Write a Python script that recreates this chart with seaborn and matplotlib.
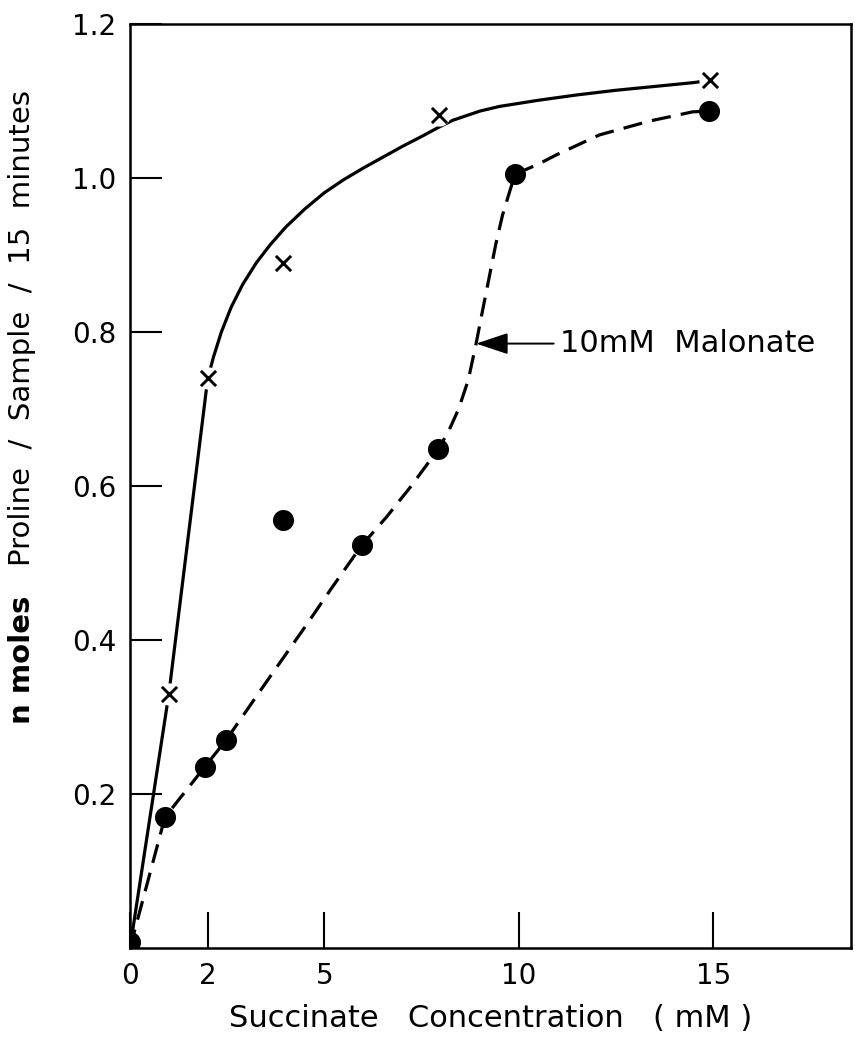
import matplotlib
matplotlib.use("Agg")
import matplotlib.pyplot as plt
import seaborn as sns
import pandas as pd

# ---- data ----
# control (x markers)
ctrl_x = [0.0, 1.0, 2.0, 3.93, 7.94, 14.92]
ctrl_y = [0.0, 0.33, 0.74, 0.89, 1.082, 1.127]
# with 10 mM malonate (filled dots)
mal_x = [0.0, 0.9, 1.92, 2.47, 3.93, 5.96, 7.93, 9.9, 14.9]
mal_y = [0.008, 0.17, 0.235, 0.27, 0.556, 0.523, 0.648, 1.005, 1.087]

# hand-drawn curve traces (solid: control, dashed: malonate)
solid_x = [0.0, 1.0, 2.0, 2.15, 2.35, 2.6, 2.9, 3.25, 3.6, 4.0, 4.5, 5.0, 5.5,
           6.0, 6.5, 7.0, 7.5, 7.94, 8.3, 9.0, 9.5, 10.5, 11.5, 12.5, 13.5, 14.5, 14.92]
solid_y = [0.0, 0.33, 0.74, 0.768, 0.80, 0.832, 0.862, 0.89, 0.913, 0.936, 0.96, 0.981, 0.998,
           1.013, 1.027, 1.041, 1.054, 1.066, 1.075, 1.087, 1.093, 1.101, 1.108, 1.114, 1.119, 1.124, 1.127]
dash_x = [0.0, 0.9, 1.92, 2.47, 3.5, 4.5, 5.22, 5.96, 6.6, 7.2, 7.93, 8.2, 8.45, 8.7,
          8.9, 9.07, 9.24, 9.41, 9.58, 9.76, 9.9, 10.5, 10.96, 12.07, 13.36, 14.47, 14.9]
dash_y = [0.0, 0.17, 0.235, 0.27, 0.345, 0.417, 0.47, 0.523, 0.56, 0.598, 0.648, 0.672, 0.700, 0.738,
          0.785, 0.829, 0.872, 0.915, 0.952, 0.982, 1.005, 1.018, 1.03, 1.056, 1.074, 1.086, 1.087]

x_ticks = [0, 2, 5, 10, 15]
y_ticks = [0.2, 0.4, 0.6, 0.8, 1.0, 1.2]
y_ticklabels = ["0.2", "0.4", "0.6", "0.8", "1.0", "1.2"]

annot_text = "10mM  Malonate"
annot_xy = (8.9, 0.785)
annot_text_xy = (11.05, 0.785)

# ---- plotting ----
sns.set_style("white")
plt.rcParams["font.family"] = ["DejaVu Sans"]
plt.rcParams["text.color"] = "black"
plt.rcParams["axes.labelcolor"] = "black"

fig = plt.figure(figsize=(8.55, 10.41), dpi=100)
ax = fig.add_axes([0.152, 0.0893, 0.8438, 0.8876])

solid_df = pd.DataFrame({"x": solid_x, "y": solid_y})

sns.lineplot(data=solid_df, x="x", y="y", sort=False, estimator=None, ax=ax,
             color="black", linewidth=2.3, zorder=2)
ax.plot(dash_x, dash_y, color="black", linewidth=2.3, dashes=(6, 3.2), zorder=2)

# white halos to give the small gaps around X markers
ax.plot(ctrl_x[1:], ctrl_y[1:], linestyle="none", marker="o", markersize=15,
        markerfacecolor="white", markeredgecolor="white", zorder=3)
sns.scatterplot(x=ctrl_x, y=ctrl_y, marker="x", s=120, color="black",
                linewidth=2.1, ax=ax, zorder=4)
sns.scatterplot(x=mal_x, y=mal_y, marker="o", s=230, color="black",
                edgecolor="black", linewidth=0, ax=ax, zorder=5)

ax.annotate(annot_text, xy=annot_xy, xytext=annot_text_xy, fontsize=22,
            va="center", ha="left", color="black",
            arrowprops=dict(arrowstyle="-|>,head_length=0.9,head_width=0.3",
                            color="black", lw=1.4, shrinkA=2, shrinkB=0))

ax.set_xlim(0, 18.55)
ax.set_ylim(0, 1.2)
ax.set_xticks(x_ticks)
ax.set_xticklabels([str(v) for v in x_ticks])
ax.set_yticks(y_ticks)
ax.set_yticklabels(y_ticklabels)
ax.tick_params(axis="both", direction="in", width=1.5, labelsize=20, colors="black",
               bottom=True, left=True, top=False, right=False)
ax.tick_params(axis="x", length=26, pad=10)
ax.tick_params(axis="y", length=23, pad=10)

for s in ax.spines.values():
    s.set_visible(True)
    s.set_color("black")
    s.set_linewidth(1.8)

ax.set_xlabel("Succinate   Concentration   ( mM )", fontsize=22, labelpad=10,
              color="black")
ax.set_ylabel("")
fig.text(0.026, 0.366, "n moles", rotation=90, fontsize=21, fontweight="bold",
         ha="center", va="center", color="black")
fig.text(0.026, 0.685, "Proline  /  Sample  /  15  minutes", rotation=90, fontsize=21,
         ha="center", va="center", color="black")

fig.savefig("out.png", dpi=100)
